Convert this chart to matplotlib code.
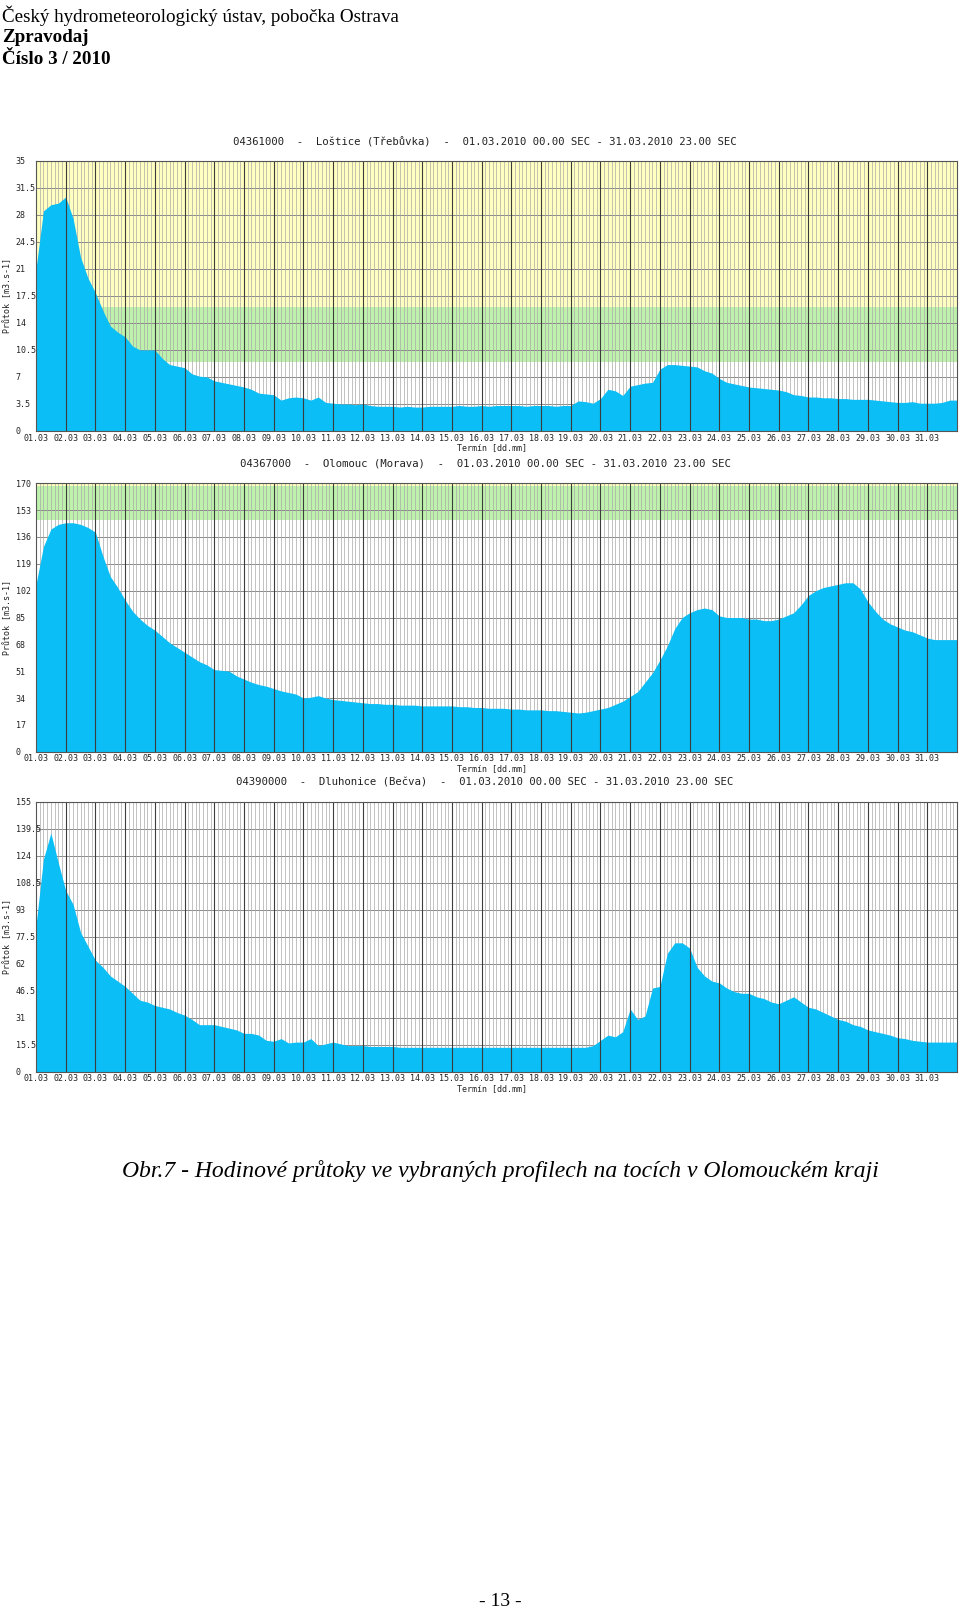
import numpy as np
import matplotlib
matplotlib.use("Agg")
import matplotlib.pyplot as plt

# Figure size in pixels (dpi 100)
W, H = 960, 1614

# Day labels on the x axis
day_labels = ["%02d.03" % d for d in range(1, 32)]

# Flow values, 4 readings per day (00, 06, 12, 18 h), m3/s
lostice = [
    21.0, 28.5, 29.3, 29.5,   # 01.03
    30.3, 27.5, 22.5, 19.8,
    17.9, 15.6, 13.6, 12.8,
    12.2, 11.0, 10.5, 10.5,
    10.5, 9.4, 8.6, 8.4,
    8.2, 7.4, 7.1, 7.0,
    6.5, 6.3, 6.1, 5.9,
    5.7, 5.4, 4.9, 4.8,
    4.7, 4.0, 4.3, 4.4,
    4.3, 4.0, 4.4, 3.7,       # 10.03
    3.6, 3.5, 3.5, 3.4,
    3.5, 3.3, 3.2, 3.2,
    3.2, 3.1, 3.2, 3.1,
    3.1, 3.2, 3.2, 3.2,
    3.2, 3.3, 3.2, 3.2,
    3.3, 3.2, 3.3, 3.3,
    3.3, 3.3, 3.2, 3.3,
    3.3, 3.3, 3.2, 3.3,
    3.3, 3.9, 3.8, 3.6,       # 19.03
    4.2, 5.4, 5.2, 4.6,
    5.8, 6.0, 6.2, 6.3,
    8.0, 8.6, 8.6, 8.5,
    8.4, 8.3, 7.8, 7.5,
    6.8, 6.3, 6.1, 5.9,
    5.7, 5.6, 5.5, 5.4,
    5.3, 5.1, 4.7, 4.6,
    4.4, 4.4, 4.3, 4.3,
    4.2, 4.2, 4.1, 4.1,
    4.1, 4.0, 3.9, 3.8,
    3.7, 3.7, 3.8, 3.6,
    3.6, 3.6, 3.7, 4.0,       # 31.03
]

olomouc = [
    106, 130, 141, 144,       # 01.03
    145, 145, 144, 142,
    139, 124, 111, 104,
    96, 89, 84, 80,
    77, 73, 69, 66,
    63, 60, 57, 55,
    52, 51.5, 51, 48,
    46, 44, 42.5, 41.5,
    40, 38.5, 37.5, 36.5,
    34, 34.5, 35.5, 34,       # 10.03
    33, 32.5, 32, 31.5,
    31, 30.5, 30.5, 30,
    30, 29.5, 29.5, 29.5,
    29, 29, 29, 29,
    29, 28.5, 28.5, 28,
    28, 27.5, 27.5, 27.5,
    27, 27, 26.5, 26.5,
    26.5, 26, 26, 25.5,
    25, 24.5, 25, 26,         # 19.03
    27, 28, 30, 32,
    35, 38, 44, 50,
    58, 67, 78, 85,
    88, 90, 91, 90,
    86, 85, 85, 85,
    84, 84, 83, 83,
    84, 86, 88, 93,
    99, 102, 104, 105,
    106, 107, 107, 103,
    95, 89, 84, 81,
    79, 77, 76, 74,
    72, 71, 71, 71,           # 31.03
]

dluhonice = [
    84, 122, 137, 120,        # 01.03
    104, 96, 80, 72,
    64, 60, 55, 52,
    49, 45, 41, 40,
    38, 37, 36, 34,
    32.5, 30, 27, 27,
    27, 26, 25, 24,
    22, 22, 21, 18,
    17.5, 19, 16.5, 17,
    17, 19, 15, 16,           # 10.03
    17, 16, 15, 15,
    15, 14.5, 14.5, 14.5,
    14.5, 14, 14, 14,
    14, 14, 14, 14,
    14, 14, 14, 14,
    14, 14, 14, 14,
    14, 14, 14, 14,
    14, 14, 14, 14,
    14, 14, 14, 15,           # 19.03
    18, 21, 20, 23,
    36, 30, 32, 48,
    49, 68, 74, 74,
    71, 60, 55, 52,
    51, 48, 46, 45,
    45, 43, 42, 40,
    39, 41, 43, 40,
    37, 36, 34, 32,
    30, 29, 27, 26,
    24, 23, 22, 21,
    19.5, 19, 18, 17.5,
    17, 17, 17, 17,           # 31.03
]

# Station titles
titles = [
    "04361000  -  Loštice (Třebůvka)  -  01.03.2010 00.00 SEC - 31.03.2010 23.00 SEC",
    "04367000  -  Olomouc (Morava)  -  01.03.2010 00.00 SEC - 31.03.2010 23.00 SEC",
    "04390000  -  Dluhonice (Bečva)  -  01.03.2010 00.00 SEC - 31.03.2010 23.00 SEC",
]
y_max = [35, 170, 155]
# flood level bands: (green from, yellow from)
bands = [(8.9, 16.0), (147, 168), (None, None)]

BLUE = "#0BBEF5"
YELLOW = "#FFFFC0"
GREEN = "#BEF2AC"


def px_y(y):
    return 1 - y / H


def draw_panel(ax, values, top, green_from, yellow_from, title, title_y):
    n = len(values)
    # readings every 6 hours, last one held to the end of the month
    x = list(np.arange(n) / 4.0) + [31]
    y = list(values) + [values[-1]]

    ax.set_xlim(0, 31)
    ax.set_ylim(0, top)
    ax.set_facecolor("white")

    # threshold bands
    if green_from is not None:
        ax.axhspan(green_from, yellow_from, color=GREEN, lw=0, zorder=0)
        ax.axhspan(yellow_from, top, color=YELLOW, lw=0, zorder=0)

    # grid: horizontal at each tick, thin vertical every 3 hours
    yt = np.linspace(0, top, 11)
    for v in yt[1:-1]:
        ax.axhline(v, color="#8a8a8a", lw=0.7, zorder=1)
    for h in np.arange(0, 31, 0.125):
        if abs(h - round(h)) > 1e-6:
            ax.axvline(h, color="#aaaaaa", lw=0.5, zorder=1)

    ax.fill_between(x, 0, y, color=BLUE, lw=0, zorder=2)

    # day lines on top of the data
    for d in range(1, 31):
        ax.axvline(d, color="#3c3c3c", lw=0.8, zorder=3)

    for s in ax.spines.values():
        s.set_color("#555555")
        s.set_linewidth(0.8)
        s.set_zorder(4)

    ax.set_xticks(np.arange(31))
    ax.set_xticklabels(day_labels, family="DejaVu Sans Mono", fontsize=6, color="#222222")
    ax.set_yticks(yt)
    ax.set_yticklabels(["%g" % v for v in yt], family="DejaVu Sans Mono", fontsize=6,
                       color="#222222")
    for lab in ax.get_yticklabels():
        lab.set_ha("left")
    ax.tick_params(axis="y", length=0, pad=14.5)
    ax.tick_params(axis="x", length=0, pad=2)

    # axis captions
    ax.text(0.495, -0.045, "Termín [dd.mm]", transform=ax.transAxes, ha="center",
            va="top", family="DejaVu Sans Mono", fontsize=6, color="#222222")
    ax.text(-0.031, 0.5, "Průtok [m3.s-1]", transform=ax.transAxes, ha="center",
            va="center", rotation=90, family="DejaVu Sans Mono", fontsize=6,
            color="#222222")

    fig.text(485 / W, px_y(title_y), title, ha="center", va="center",
             family="DejaVu Sans Mono", fontsize=7.7, color="#222222")


fig = plt.figure(figsize=(W / 100, H / 100), dpi=100)

# panel boxes in pixels: (top, bottom)
boxes = [(160.7, 431.0), (483.3, 751.7), (801.7, 1071.7)]
title_ys = [142, 463, 782]
series = [lostice, olomouc, dluhonice]

for i in range(3):
    top_px, bot_px = boxes[i]
    ax = fig.add_axes([36 / W, px_y(bot_px), 921 / W, (bot_px - top_px) / H])
    draw_panel(ax, series[i], y_max[i], bands[i][0], bands[i][1], titles[i], title_ys[i])

# page header / caption
serif = "Liberation Serif"
fig.text(2 / W, px_y(16), "Český hydrometeorologický ústav, pobočka Ostrava",
         family=serif, fontsize=13.7, ha="left", va="center")
fig.text(2 / W, px_y(38), "Zpravodaj", family=serif, fontsize=13.7, weight="bold",
         ha="left", va="center")
fig.text(2 / W, px_y(59), "Číslo 3 / 2010", family=serif, fontsize=13.7, weight="bold",
         ha="left", va="center")
fig.text(500 / W, px_y(1171),
         "Obr.7 - Hodinové průtoky ve vybraných profilech na tocích v Olomouckém kraji",
         family=serif, style="italic", fontsize=17, ha="center", va="center")
fig.text(500 / W, px_y(1602), "- 13 -", family=serif, fontsize=14, ha="center",
         va="center")

fig.savefig("out.png", dpi=100, facecolor="white")
